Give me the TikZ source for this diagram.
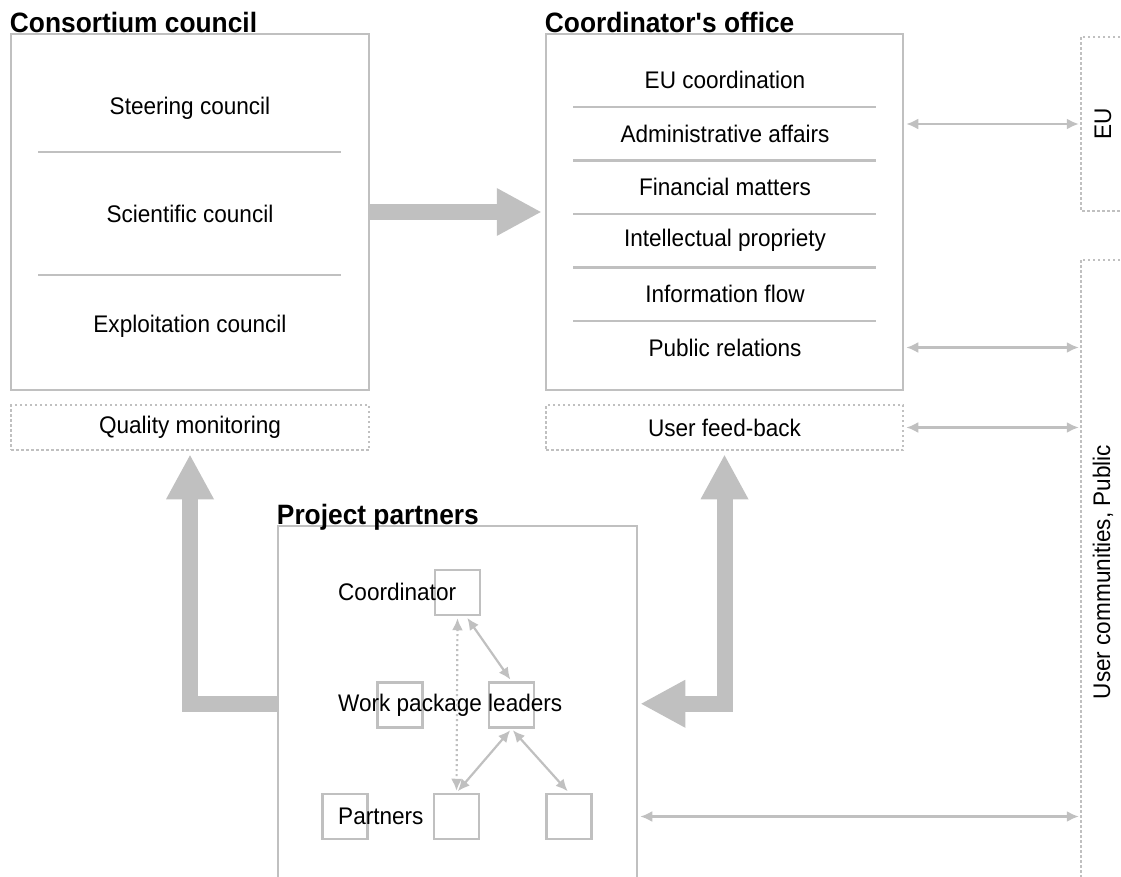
\documentclass[tikz,border=0pt]{standalone}
\usepackage{fontspec}
\setmainfont[FakeStretch=0.94]{Liberation Sans}
\usetikzlibrary{arrows.meta,calc,positioning}
\definecolor{linegray}{RGB}{192,192,192}
\tikzset{
  box/.style={draw=linegray, line width=2.5pt, rectangle, inner sep=0pt},
  dotbox/.style={draw=linegray, line width=2.5pt, dash pattern=on 2.5pt off 2.5pt},
  sq/.style={draw=linegray, line width=2.5pt, minimum size=45pt, inner sep=0pt},
  heading/.style={font=\fontsize{28}{32}\selectfont\bfseries, inner sep=0pt, anchor=base west},
  link/.style={draw=linegray, line width=2.2pt, shorten <=2pt, shorten >=2pt,
    {Latex[length=12pt,width=11pt]}-{Latex[length=12pt,width=11pt]}},
  bigarrow/.style={draw=linegray, line width=16pt, line join=miter,
    -{Triangle[length=44pt,width=48pt,line width=0pt]}},
  sep/.style={draw=linegray, line width=2.5pt},
}
\begin{document}
\begin{tikzpicture}[x=1pt,y=-1pt,font=\fontsize{24}{28}\selectfont]
\useasboundingbox (0,0) rectangle (1121,877);

% consortium council
\node[box, minimum width=358pt, minimum height=356pt] (cc) at (190,212) {};
\node[heading] (cch) at (cc.north west) {Consortium council};
\node (cc1) at (190,108) {Steering council};
\node (cc2) at (190,214) {Scientific council};
\node (cc3) at (190,326) {Exploitation council};
\draw[sep] (38,152) -- (341,152);
\draw[sep] (38,275) -- (341,275);
\node[box, dotbox, minimum width=358pt, minimum height=45pt] (qm) at (190,427.5) {Quality monitoring};

% coordinator's office
\node[box, minimum width=357pt, minimum height=356pt] (co) at (724.5,212) {};
\node[heading] (coh) at (co.north west) {Coordinator\textquotesingle s office};
\foreach \txt [count=\i] in {EU coordination, Administrative affairs, Financial matters,
    Intellectual propriety, Information flow, Public relations}
  \node (co\i) at (725,26.5+53.5*\i) {\txt};
\foreach \i in {1,...,5}
  \draw[sep] (573,53.5+53.5*\i) -- (876,53.5+53.5*\i);
\node[box, dotbox, minimum width=357pt, minimum height=45pt] (uf) at (724.5,427.5) {User feed-back};

% outside
\node[minimum width=44pt, minimum height=174pt, inner sep=0pt] (eu) at (1103,124) {};
\node[rotate=90] (eut) at (eu.center) {EU};
\draw[dotbox] (eu.north east) -- (eu.north west) -- (eu.south west) -- (eu.south east);
\node[minimum width=44pt, minimum height=624pt, inner sep=0pt] (uc) at (1103,572) {};
\node[rotate=90] (uct) at (uc.center) {User communities, Public};
\draw[dotbox] (uc.north east) -- (uc.north west) -- (uc.south west);

% project partners
\node[box, minimum width=359pt, minimum height=374pt] (pp) at (457.5,713) {};
\node[heading] (pph) at (pp.north west) {Project partners};
\node[sq] (pc) at (457.5,592.5) {};
\node[sq] (w1) at (400,705) {};
\node[sq] (w2) at (511.5,705) {};
\node[sq] (p1) at (345,816.5) {};
\node[sq] (p2) at (456.5,816.5) {};
\node[sq] (p3) at (569,816.5) {};
\node[anchor=west, inner sep=0pt] (lc) at (338,592) {Coordinator};
\node[anchor=west, inner sep=0pt] (lw) at (338,705) {Work package leaders};
\node[anchor=west, inner sep=0pt] (lp) at (338,816) {Partners};
\draw[link, dash pattern=on 2pt off 3pt] (pc.south) -- (p2.north);
\draw[link] (pc.290) -- (w2.north);
\draw[link] (w2.south) -- (p2.north);
\draw[link] (w2.south) -- (p3.north);

% big arrows
\coordinate (ppl) at ($(pp.north west)+(0,179)$);
\coordinate (ppr) at ($(pp.north east)+(0,179)$);
\draw[bigarrow, shorten >=4pt] (cc.east) -- (co.west);
\draw[bigarrow, shorten >=4pt] (ppl) -| (qm.south);
\draw[bigarrow, {Triangle[length=44pt,width=48pt,line width=0pt]}-{Triangle[length=44pt,width=48pt,line width=0pt]},
  shorten >=3pt, shorten <=4pt] (uf.south) |- (ppr);

% links to the outside
\draw[link] (co.east |- eu.west) -- (eu.west);
\draw[link] (co.east |- co6) -- (uc.west |- co6);
\draw[link] (uf.east) -- (uf.east -| uc.west);
\draw[link] (pp.east |- p3) -- (uc.west |- p3);
\end{tikzpicture}
\end{document}
